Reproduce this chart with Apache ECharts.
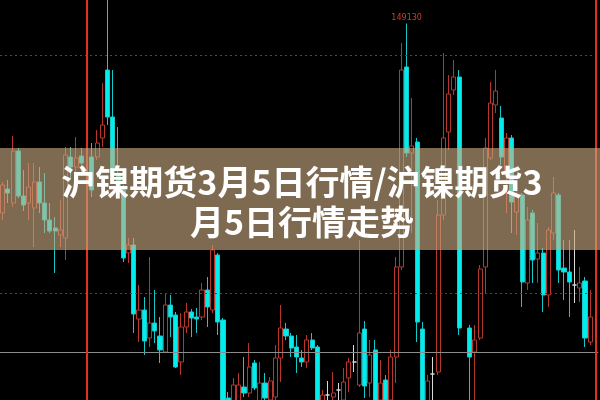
<!DOCTYPE html>
<html><head><meta charset="utf-8">
<script src="https://cdn.jsdelivr.net/npm/echarts@6/dist/echarts.min.js"></script>
<style>html,body{margin:0;padding:0;background:#000}#c{width:600px;height:400px}</style>
</head><body><div id="c"></div>
<script>
// OHLC per slot (null = empty slot)
const opens = [145340,145820,145540,146580,145680,145540,145440,145960,145540,145200,145040,144900,144840,146460,146260,146480,
null,
146460,146460,146840,148200,147260,146140,145800,144540,144700,143220,143400,142840,143140,142880,142560,143500,143300,142360,143060,143360,143260,143260,143800,143400,144500,143200,141640,141400,141500,141860,141740,142340,141500,141940,141600,141660,142440,143020,142880,142660,142440,142360,142800,142660,141500,141700,141660,141800,141600,142040,142360,141900,143020,141940,142600,141600,142000,141600,142460,144260,148260,146540,146760,143020,141500,142120,142160,145300,146960,147800,148060,
null,
143040,142560,142840,144260,146440,147500,147240,146100,146840,145360,145700,143940,145340,144420,144540,143700,144940,145700,144240,144160,143900,143840,143980,142760,
null];
const closes = [145900,145740,146580,145680,145500,145860,145960,145540,145200,144980,144980,145000,146500,146260,146440,146340,
null,
145800,146740,147100,147260,146140,145800,144440,144700,143320,143400,142780,143140,142980,142600,143500,143260,142260,143060,143360,143240,143220,143800,143460,144600,143160,141200,141360,141900,141900,141740,142260,141840,141940,141640,141980,142440,143040,142880,142640,142460,142360,142800,142640,141400,141700,141700,141740,141800,141960,142360,142360,142940,141880,142500,141500,141940,141600,142460,144260,148200,146540,146680,143160,141400,141980,142120,145300,146840,147720,148060,143040,
null,
142460,142800,144220,146640,147540,147780,146460,146840,145560,145700,143960,145200,144400,144540,143700,145000,145740,144200,144160,143960,143900,143940,142840,143260,
null];
const lows = [145200,145540,145460,145640,145380,145200,144660,145340,144940,144940,144140,144660,144400,146000,145860,146140,
null,
145660,146400,146660,147100,146000,145700,144360,144340,142940,142760,142500,142660,142740,142340,142540,142860,142240,142100,142940,142860,142940,143200,143060,143340,142900,141000,141200,141300,141400,141660,141660,141800,141400,141600,141500,141600,141960,142800,142460,142140,142260,142240,142600,141300,141400,141500,141600,141500,141500,141760,142160,141860,141640,141660,141400,141500,141440,141500,141940,144200,146460,144940,142760,141200,141400,141500,142100,145200,146600,147700,142900,
null,
141600,141400,142800,143740,146400,147340,146300,145340,144940,144900,143460,143800,143940,143940,143360,143460,144800,143940,143600,143260,143540,143560,142660,142700,
null];
const highs = [145960,146000,146880,146640,146200,146340,146340,146260,146140,145540,145260,145600,146660,146660,146860,146640,
null,
146740,147000,147940,149800,148200,147060,145900,144840,144840,143900,143660,144460,143800,143260,143740,143700,143360,143340,143540,143420,143440,143940,144060,144700,144540,143240,141760,142040,142140,142460,142740,142400,142360,142140,142060,142700,143500,143140,142940,142900,142600,142900,142940,142700,141800,141980,142160,141940,142240,142440,142700,144800,143180,142800,142800,142400,142100,142600,144460,148740,149130,147640,146840,143160,142100,142460,145600,148540,148100,148400,148200,
null,
143100,143100,144300,146840,147960,148200,147480,146940,146900,146000,145740,145460,145400,145140,144640,145060,146060,145740,144800,144800,145000,144260,144060,143800,
null];
const titleLines = ['沪镍期货3月5日行情/沪镍期货3', '月5日行情走势'];
const dashedLevels = [148500, 143740];
const solidLevel = 142560;
const cursorSlots = [16, 113];
const peakSlot = 77;
const peakValue = 149130;

const categories = opens.map((_, i) => 'K' + (i + 1));
const data = opens.map((o, i) => {
  if (o === null) return '-';
  const v = [o, closes[i], lows[i], highs[i]];
  if (o === closes[i]) {
    return { value: v, itemStyle: { color: '#d8d8d8', color0: '#d8d8d8', borderColor: '#d8d8d8', borderColor0: '#d8d8d8' } };
  }
  return v;
});

const chart = echarts.init(document.getElementById('c'), null, { renderer: 'canvas' });
chart.setOption({
  backgroundColor: '#000',
  animation: false,
  graphic: [{
    type: 'rect', z: 50, silent: true,
    shape: { x: 0, y: 148, width: 600, height: 102 },
    style: { fill: 'rgba(202,171,129,0.62)' }
  }, {
    type: 'text', z: 60, silent: true,
    x: 302, y: 162,
    style: {
      text: titleLines.join('\n'),
      align: 'center',
      verticalAlign: 'top',
      fill: '#ffffff',
      fontSize: 34,
      fontWeight: 'bold',
      fontFamily: '"Noto Sans CJK SC", sans-serif',
      lineHeight: 40,
      shadowColor: 'rgba(0,0,0,0.45)',
      shadowBlur: 3,
      shadowOffsetX: 1,
      shadowOffsetY: 1
    }
  }],
  grid: { left: -2.635, right: 1.855, top: 0, bottom: 0, containLabel: false },
  xAxis: {
    type: 'category', data: categories, boundaryGap: true,
    axisLine: { show: false }, axisTick: { show: false }, axisLabel: { show: false }, splitLine: { show: false }
  },
  yAxis: {
    type: 'value', min: 141600, max: 149600, scale: true,
    axisLine: { show: false }, axisTick: { show: false }, axisLabel: { show: false }, splitLine: { show: false }
  },
  series: [{
    type: 'candlestick',
    data: data,
    barWidth: 4.6,
    clip: true,
    itemStyle: {
      color: '#000000',
      color0: '#00eeee',
      borderColor: '#b8372c',
      borderColor0: '#14c9c9',
      borderWidth: 1
    },
    markLine: {
      silent: true, symbol: 'none', label: { show: false }, animation: false,
      data: [
        ...dashedLevels.map(v => ({ yAxis: v, lineStyle: { color: '#b81c1c', width: 1, type: [2, 3] } })),
        { yAxis: solidLevel, lineStyle: { color: '#8c8c8c', width: 1, type: 'solid' } },
        ...cursorSlots.map(s => ({ xAxis: categories[s], lineStyle: { color: '#e3301f', width: 2, type: 'solid' } }))
      ]
    },
    markPoint: {
      silent: true, symbol: 'circle', symbolSize: 0, animation: false,
      label: { show: true, position: 'top', distance: 2, color: '#c8402f', fontSize: 8, fontFamily: 'DejaVu Sans, sans-serif', formatter: String(peakValue) },
      data: [{ coord: [categories[peakSlot], peakValue], value: peakValue }]
    }
  }]
});
</script>
</body></html>
